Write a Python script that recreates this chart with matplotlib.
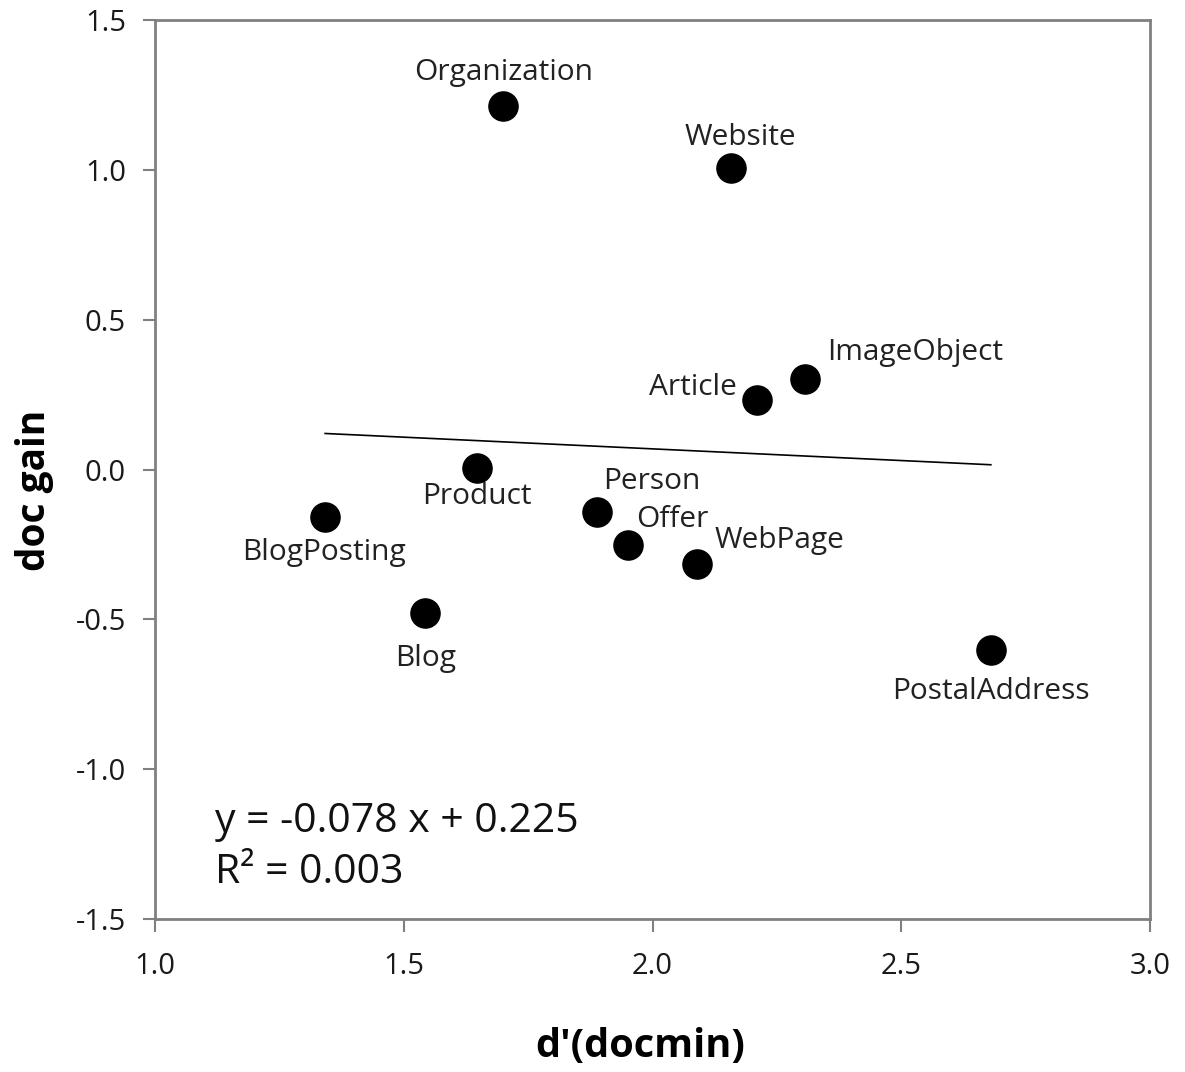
import matplotlib
matplotlib.use("Agg")
from matplotlib import pyplot as plt

plt.rcParams['font.family'] = ['Open Sans', 'DejaVu Sans']

names = ["Organization", "Website", "ImageObject", "Article", "Product",
         "Person", "Offer", "WebPage", "BlogPosting", "Blog", "PostalAddress"]
d_prime = [1.70, 2.158, 2.307, 2.210, 1.647, 1.888, 1.951, 2.089, 1.342, 1.543, 2.680]
doc_gain = [1.213, 1.006, 0.302, 0.232, 0.005, -0.142, -0.252, -0.315, -0.158, -0.479, -0.602]

slope = -0.078
intercept = 0.225
r2 = 0.003

# label offsets in pixels (dx, dy, horizontal alignment)
offsets = {
    "Organization": (0, 34, "center"),
    "Website": (9, 31, "center"),
    "ImageObject": (110, 27, "center"),
    "Article": (-20, 13, "right"),
    "Product": (0, -28, "center"),
    "Person": (55, 31, "center"),
    "Offer": (44, 26, "center"),
    "WebPage": (83, 23, "center"),
    "BlogPosting": (-1, -36, "center"),
    "Blog": (0, -45, "center"),
    "PostalAddress": (0, -42, "center"),
}

fig = plt.figure(figsize=(11.85, 10.72), dpi=100)
ax = fig.add_axes([0.1308, 0.1427, 0.8397, 0.8386])

ax.plot(d_prime, doc_gain, "o", color="black", markersize=21, zorder=3)

xmin, xmax = min(d_prime), max(d_prime)
ax.plot([xmin, xmax], [slope * xmin + intercept, slope * xmax + intercept],
        color="black", linewidth=1.2, zorder=2)

for name, x, y in zip(names, d_prime, doc_gain):
    dx, dy, ha = offsets[name]
    ax.annotate(name, (x, y), xytext=(dx, dy), textcoords="offset pixels",
                ha=ha, va="center", fontsize=21.5, color="#222222")

ax.text(0.06, 0.108, f"y = {slope} x + {intercept}", transform=ax.transAxes,
        fontsize=29.5, color="#111111", va="center")
ax.text(0.06, 0.051, f"R² = {r2}", transform=ax.transAxes,
        fontsize=29.5, color="#111111", va="center")

ax.set_xlim(1.0, 3.0)
ax.set_ylim(-1.5, 1.5)
ax.set_xticks([1.0, 1.5, 2.0, 2.5, 3.0])
ax.set_yticks([-1.5, -1.0, -0.5, 0.0, 0.5, 1.0, 1.5])
ax.set_xticklabels(["1.0", "1.5", "2.0", "2.5", "3.0"])
ax.set_yticklabels(["-1.5", "-1.0", "-0.5", "0.0", "0.5", "1.0", "1.5"])
ax.tick_params(axis="both", direction="out", length=9, width=1.5, color="#808080",
               labelsize=21, labelcolor="#1a1a1a", pad=15)
ax.tick_params(axis="y", pad=12)

for s in ax.spines.values():
    s.set_color("#808080")
    s.set_linewidth(2)

ax.set_xlabel("d'(docmin)", fontsize=28.5, fontweight="bold", va="center")
ax.set_ylabel("doc gain", fontsize=28, fontweight="bold", va="center")
ax.xaxis.set_label_coords(0.488, -0.142)
ax.yaxis.set_label_coords(-0.1206, 0.477)

fig.savefig("out.png", dpi=100, facecolor="white")
